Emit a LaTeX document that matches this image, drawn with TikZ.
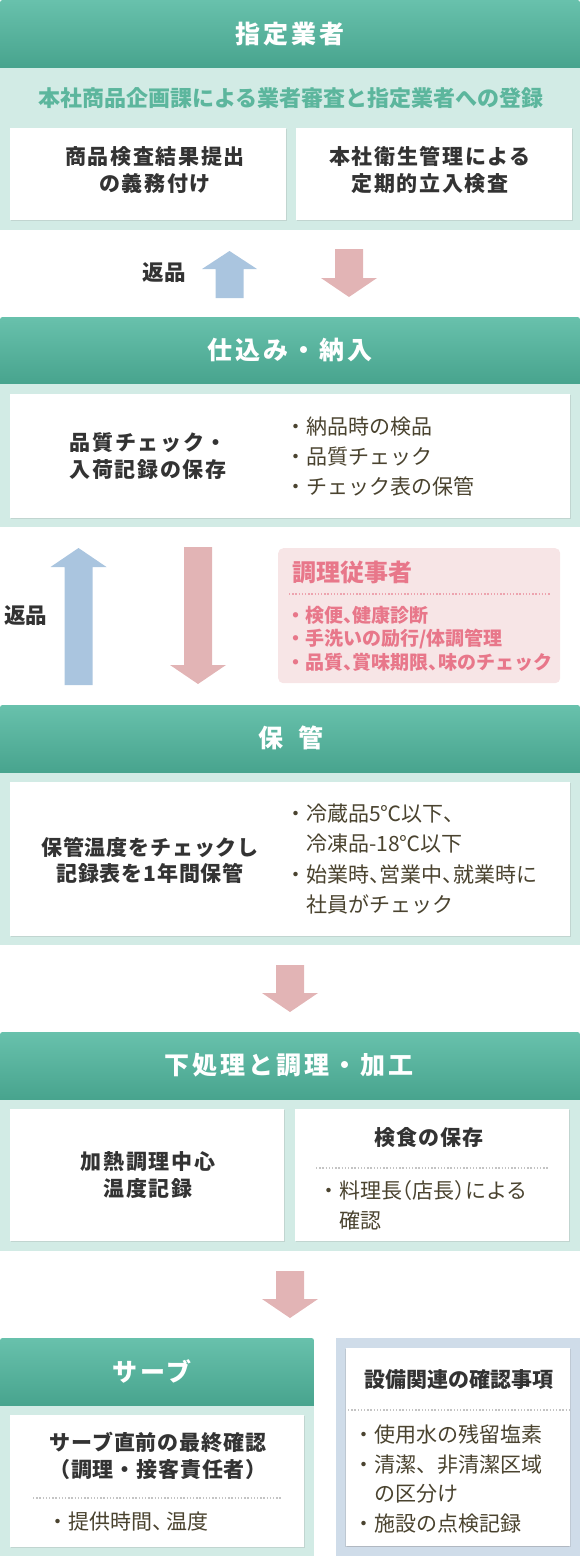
\documentclass[tikz,border=0pt]{standalone}
\usepackage{fontspec}
\setmainfont{Noto Sans CJK JP}
\newfontfamily\hdfont[LetterSpace=12]{Noto Sans CJK JP}
\newfontfamily\tlfont[LetterSpace=8]{Noto Sans CJK JP}
\newfontfamily\tlfontb[LetterSpace=4]{Noto Sans CJK JP}
\usetikzlibrary{shadows}
\definecolor{hdtop}{HTML}{68C1AC}
\definecolor{hdbot}{HTML}{48A48E}
\definecolor{band}{HTML}{D2EBE5}
\definecolor{subt}{HTML}{5CB69D}
\definecolor{dark}{HTML}{333333}
\definecolor{listc}{HTML}{4A432F}
\definecolor{blarr}{HTML}{AAC5DF}
\definecolor{pkarr}{HTML}{E2B4B5}
\definecolor{pkbox}{HTML}{F7E5E6}
\definecolor{pktxt}{HTML}{E8778A}
\definecolor{pkdot}{HTML}{EDA3AE}
\definecolor{gybox}{HTML}{CFDCE9}
\definecolor{dotc}{HTML}{C4C4C4}
\newcommand\hcomma{\makebox[0.5em][l]{、}}
\newcommand\nlp{\makebox[0.5em][r]{（}}
\newcommand\nrp{\makebox[0.5em][l]{）}}
\newcommand\hdrbar[4]{%
  \begin{scope}
    \clip[rounded corners=2.5pt] (#1,#2) rectangle (#3,#4+6);
    \shade[top color=hdtop,bottom color=hdbot] (#1,#2) rectangle (#3,#4);
  \end{scope}}
\begin{document}
\begin{tikzpicture}[x=1pt,y=-1pt,
  wbox/.style={fill=white, draw=none, inner sep=0, anchor=north west,
    drop shadow={opacity=0.2, shadow xshift=0.8pt, shadow yshift=-1.2pt}},
  hdtext/.style={text=white, inner sep=0, font=\hdfont\bfseries\fontsize{25}{29}\selectfont},
  ttl/.style={text=dark, align=center, inner sep=0, font=\tlfont\bfseries\fontsize{21}{27}\selectfont},
  ttlb/.style={text=dark, align=center, inner sep=0, font=\tlfontb\bfseries\fontsize{21}{27}\selectfont},
  lst/.style={text=listc, align=left, anchor=west, inner sep=0, font=\fontsize{21}{30}\selectfont},
  dotline/.style={dotc, line width=1.3pt, dash pattern=on 1.3pt off 1.9pt},
  retlbl/.style={text=dark, inner sep=0, font=\bfseries\fontsize{21.5}{26}\selectfont},
]
\useasboundingbox (0,0) rectangle (580,1556);

% ---------- Section 1 ----------
\fill[band] (0,60) rectangle (580,230);
\hdrbar{0}{0}{580}{67}
\node[hdtext] (h1) at (290,34) {指定業者};
\node[text=subt, inner sep=0, font=\bfseries\fontsize{22}{26}\selectfont] (sub1) at (291,98) {本社商品企画課による業者審査と指定業者への登録};
\node[wbox, minimum width=276pt, minimum height=92pt] (b1a) at (10,128) {};
\node[wbox, minimum width=276pt, minimum height=92pt] (b1b) at (296,128) {};
\node[ttl] (t1a) at (155,170) {商品検査結果提出\\の義務付け};
\node[ttl] (t1b) at (430,170) {本社衛生管理による\\定期的立入検査};

% arrows 1
\fill[blarr] (215.5,298) -- (215.5,269) -- (202,269) -- (229.5,251) -- (257,269) -- (243.5,269) -- (243.5,298) -- cycle;
\fill[pkarr] (335,249) -- (363,249) -- (363,278) -- (377,278) -- (349,297) -- (321,278) -- (335,278) -- cycle;
\node[retlbl] (r1) at (164,273) {返品};

% ---------- Section 2 ----------
\fill[band] (0,377) rectangle (580,527);
\hdrbar{0}{317}{580}{383}
\node[hdtext] (h2) at (290,350) {仕込み・納入};
\node[wbox, minimum width=560pt, minimum height=124pt] (b2) at (10,394) {};
\node[ttl] (t2) at (148,456.5) {品質チェック・\\入荷記録の保存};
\node[lst] (l2) at (285,457) {・納品時の検品\\・品質チェック\\・チェック表の保管};

% arrows 2
\fill[blarr] (64.5,685) -- (64.5,567) -- (50.5,567) -- (78.5,548) -- (106.5,567) -- (92.5,567) -- (92.5,685) -- cycle;
\fill[pkarr] (184,547) -- (212,547) -- (212,665) -- (226,665) -- (198,684) -- (170,665) -- (184,665) -- cycle;
\node[retlbl] (r2) at (26,616) {返品};

% pink staff box
\node[fill=pkbox, rounded corners=5pt, inner sep=0, anchor=north west, minimum width=282pt, minimum height=135pt] (pk) at (278,548) {};
\node[text=pktxt, anchor=west, inner sep=0, font=\bfseries\fontsize{24}{28}\selectfont] (pkt) at (292,572) {調理従事者};
\draw[pkdot, line width=1.3pt, dash pattern=on 1.3pt off 1.9pt] (289,594) -- (551,594);
\node[text=pktxt, anchor=west, align=left, inner sep=0, font=\bfseries\fontsize{19}{23.5}\selectfont] (pkl) at (286,638.5) {・検便\hcomma 健康診断\\・手洗いの励行/体調管理\\・品質\hcomma 賞味期限\hcomma 味のチェック};

% ---------- Section 3 ----------
\fill[band] (0,766) rectangle (580,945);
\hdrbar{0}{705}{580}{772}
\node[hdtext] (h3) at (291,738) {保\hspace{15pt}管};
\node[wbox, minimum width=560pt, minimum height=154pt] (b3) at (10,782) {};
\node[ttl, font=\tlfontb\bfseries\fontsize{21}{26}\selectfont] (t3) at (150,860) {保管温度をチェックし\\記録表を1年間保管};
\node[lst, font=\fontsize{21}{30.5}\selectfont] (l3) at (285,859) {・冷蔵品5℃以下、\\\hspace{21pt}冷凍品-18℃以下\\・始業時\hcomma 営業中\hcomma 就業時に\\\hspace{21pt}社員がチェック};

% arrow 3
\fill[pkarr] (276,965) -- (304,965) -- (304,993) -- (318,993) -- (290,1012) -- (262,993) -- (276,993) -- cycle;

% ---------- Section 4 ----------
\fill[band] (0,1093) rectangle (580,1251);
\hdrbar{0}{1032}{580}{1099}
\node[hdtext] (h4) at (289,1065) {下処理と調理・加工};
\node[wbox, minimum width=274pt, minimum height=132pt] (b4a) at (10,1109) {};
\node[wbox, minimum width=274pt, minimum height=132pt] (b4b) at (295,1109) {};
\node[ttl] (t4a) at (148,1175.5) {加熱調理中心\\温度記録};
\node[ttlb] (t4b) at (429,1138) {検食の保存};
\draw[dotline] (316,1168) -- (549,1168);
\node[lst] (l4) at (318,1205) {・料理長\nlp 店長\nrp による\\\hspace{21pt}確認};

% arrow 4
\fill[pkarr] (276,1271) -- (304,1271) -- (304,1299) -- (318,1299) -- (290,1318) -- (262,1299) -- (276,1299) -- cycle;

% ---------- Section 5 ----------
\fill[band] (0,1399) rectangle (314,1556);
\hdrbar{0}{1338}{314}{1405}
\node[hdtext] (h5) at (152,1371) {サーブ};
\node[wbox, minimum width=294pt, minimum height=132pt] (b5a) at (10,1415) {};
\node[ttlb] (t5a) at (158,1455.5) {サーブ直前の最終確認\\（調理・接客責任者）};
\draw[dotline] (33,1498) -- (282,1498);
\node[lst] (l5a) at (47.5,1522) {・提供時間\hcomma\hspace{3pt}温度};

\fill[gybox] (336,1338) rectangle (580,1556);
\node[wbox, minimum width=224pt, minimum height=198pt,
  drop shadow={opacity=0.22, shadow xshift=-1pt, shadow yshift=-1.2pt}] (b5b) at (346,1348) {};
\node[text=dark, inner sep=0, font=\bfseries\fontsize{21}{26}\selectfont] (t5b) at (459,1380) {設備関連の確認事項};
\draw[dotline] (348,1410) -- (570,1410);
\node[lst, font=\fontsize{21}{29.8}\selectfont] (l5b) at (353.5,1479) {・使用水の残留塩素\\・清潔、非清潔区域\\\hspace{21pt}の区分け\\・施設の点検記録};
\end{tikzpicture}
\end{document}
